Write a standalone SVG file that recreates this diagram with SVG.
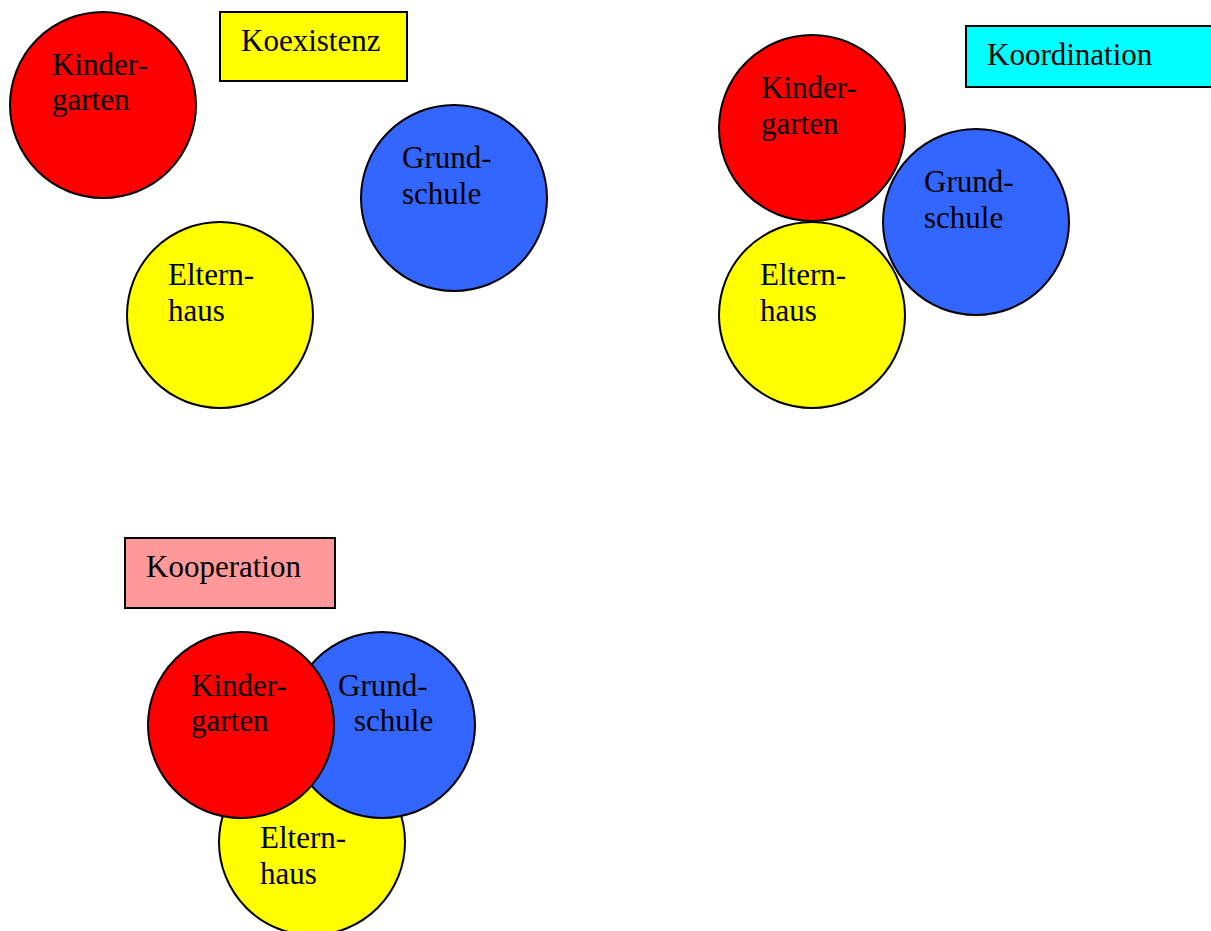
<svg xmlns="http://www.w3.org/2000/svg" width="1211" height="931" viewBox="0 0 1211 931">
<style>
  .c { stroke: #000; stroke-width: 2; }
  .red { fill: #FF0000; }
  .blue { fill: #3366FF; }
  .yel { fill: #FFFF00; }
  .box { stroke: #000; stroke-width: 2; }
  text { font-family: "Liberation Serif", "Times New Roman", serif; font-size: 31px; fill: #000; }
</style>
<rect width="1211" height="931" fill="#fff"/>

<!-- Koexistenz -->
<g id="koexistenz-label">
  <rect class="box" x="220" y="12" width="187" height="69" fill="#FFFF00"/>
  <text x="241" y="51">Koexistenz</text>
</g>
<g id="koex-kindergarten">
  <circle class="c red" cx="103" cy="105" r="93"/>
  <text x="52" y="75">Kinder-</text>
  <text x="52" y="110">garten</text>
</g>
<g id="koex-grundschule">
  <circle class="c blue" cx="454" cy="198" r="93"/>
  <text x="402" y="168">Grund-</text>
  <text x="402" y="204">schule</text>
</g>
<g id="koex-elternhaus">
  <circle class="c yel" cx="220" cy="315" r="93"/>
  <text x="168" y="285">Eltern-</text>
  <text x="168" y="321">haus</text>
</g>

<!-- Koordination -->
<g id="koordination-label">
  <rect class="box" x="966" y="26" width="250" height="61" fill="#00FFFF"/>
  <text x="987" y="65">Koordination</text>
</g>
<g id="koord-kindergarten">
  <circle class="c red" cx="812" cy="128" r="93"/>
  <text x="761" y="98">Kinder-</text>
  <text x="761" y="134">garten</text>
</g>
<g id="koord-elternhaus">
  <circle class="c yel" cx="812" cy="315" r="93"/>
  <text x="760" y="285">Eltern-</text>
  <text x="760" y="321">haus</text>
</g>
<g id="koord-grundschule">
  <circle class="c blue" cx="976" cy="222" r="93"/>
  <text x="924" y="192">Grund-</text>
  <text x="924" y="228">schule</text>
</g>

<!-- Kooperation -->
<g id="kooperation-label">
  <rect class="box" x="125" y="538" width="210" height="70" fill="#FF9999"/>
  <text x="146" y="577">Kooperation</text>
</g>
<g id="koop-elternhaus">
  <circle class="c yel" cx="312" cy="842" r="93"/>
  <text x="260" y="848">Eltern-</text>
  <text x="260" y="884">haus</text>
</g>
<g id="koop-grundschule">
  <circle class="c blue" cx="382" cy="725" r="93"/>
  <text x="338" y="696">Grund-</text>
  <text x="354" y="731">schule</text>
</g>
<g id="koop-kindergarten">
  <circle class="c red" cx="241" cy="725" r="93"/>
  <text x="191" y="696">Kinder-</text>
  <text x="191" y="731">garten</text>
</g>

<g id="connectors"></g>
</svg>
